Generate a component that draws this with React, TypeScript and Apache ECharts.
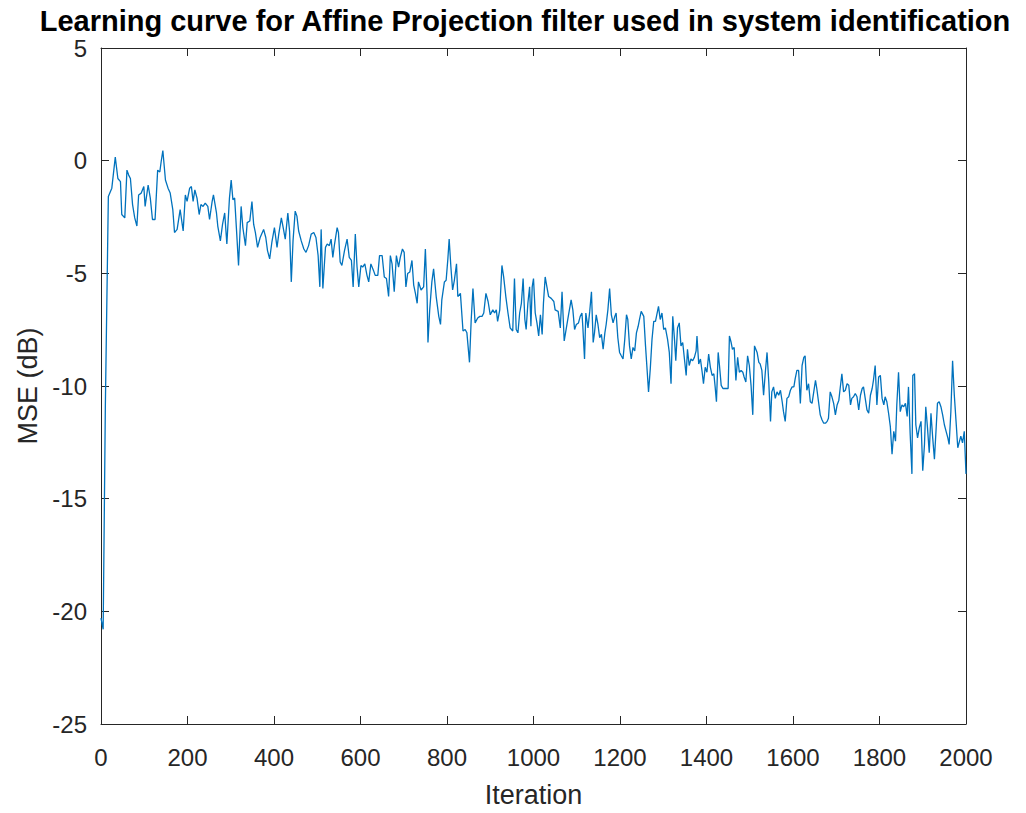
import React, { useEffect, useRef } from "react";
import * as echarts from "echarts";

const titleText = "Learning curve for Affine Projection filter used in system identification";
const xLabel = "Iteration";
const yLabel = "MSE (dB)";

const iterations: number[] = [
  0, 5, 10, 17, 25, 33, 39, 45, 48, 55, 60, 64, 68, 73, 78, 83, 87, 93, 99, 102,
  109, 114, 119, 125, 131, 136, 139, 143, 149, 155, 160, 166, 170, 176,
  183, 190, 195, 199, 205, 209, 213, 217, 222, 227, 231, 236, 241, 247, 251, 257,
  260, 267, 270, 276, 281, 286, 291, 297, 301, 305, 309, 313, 318, 324, 328, 334,
  338, 344, 349, 353, 357, 362, 368, 376, 381, 385, 390, 395, 401, 407, 411,
  417, 422, 426, 432, 436, 440, 444, 449, 453, 457, 463, 469, 474, 480, 486, 492,
  497, 502, 506, 509, 513, 519, 523, 528, 532, 536, 540, 546, 549, 553, 557, 563,
  569, 574, 579, 583, 588, 592, 596, 601, 605, 610, 615, 619, 624, 630,
  634, 640, 644, 650, 655, 660, 665, 669, 673, 678, 683, 688, 692, 697, 701, 705,
  709, 714, 719, 723, 727, 731, 734, 740, 746, 750, 754, 756, 760, 765, 769, 775,
  781, 785, 788, 794, 798, 802, 805, 809, 813, 817, 822, 825, 831, 837, 842, 846, 850,
  852, 856, 860, 865, 871, 876, 881, 885, 890, 895, 900, 906, 910, 914, 917, 922,
  927, 931, 936, 941, 946, 952, 956, 960, 964, 968, 972, 976, 980, 983, 987, 991,
  994, 997, 1000, 1004, 1008, 1012, 1016, 1020, 1023, 1027, 1031, 1035, 1041, 1047,
  1050, 1057, 1062, 1066, 1071,
  1081, 1087, 1091, 1095, 1099, 1104, 1108, 1112, 1114, 1118, 1121, 1126, 1130, 1134,
  1138, 1141, 1145, 1149, 1153, 1157, 1161, 1165, 1168, 1172, 1176, 1180, 1184, 1188,
  1191, 1195, 1199, 1203, 1207, 1211, 1215, 1218, 1222, 1226, 1230, 1234, 1238, 1242,
  1245, 1249, 1255, 1259, 1262, 1266, 1270, 1274, 1278, 1282,
  1289, 1293, 1297, 1301, 1305, 1310, 1314, 1318, 1322, 1326, 1329, 1333, 1337, 1341,
  1345, 1349, 1353, 1356, 1360, 1364, 1368, 1372, 1376, 1378, 1382, 1386, 1390, 1393,
  1397, 1401, 1405, 1409, 1413, 1417, 1420, 1423, 1427, 1430, 1434, 1438, 1442, 1446,
  1450, 1453, 1457, 1460, 1464, 1468, 1472, 1476, 1480, 1484, 1487, 1491, 1495, 1499,
  1503, 1507, 1511,
  1517, 1521, 1524, 1528, 1532, 1536, 1540, 1544, 1548, 1551, 1555, 1559, 1563, 1567,
  1571, 1575, 1578, 1582, 1586, 1590, 1594, 1598, 1602, 1605, 1609, 1613, 1617, 1621,
  1625, 1628, 1632, 1636, 1640, 1644, 1648, 1652, 1655, 1659, 1663, 1667, 1671, 1675,
  1679, 1682, 1686, 1690, 1694, 1698, 1702, 1706, 1709, 1713, 1717, 1721, 1725, 1729,
  1733, 1736, 1740, 1744, 1748, 1752, 1756, 1760, 1763, 1767, 1771, 1775, 1779, 1783,
  1786, 1790, 1794, 1798, 1802, 1806, 1810, 1813, 1817, 1821, 1825, 1829, 1833, 1837,
  1840, 1844, 1848, 1852, 1856, 1860, 1864, 1867, 1871, 1875, 1877, 1881, 1884, 1888,
  1892, 1896, 1900, 1904, 1907, 1911, 1915, 1919, 1923, 1927, 1931, 1934, 1938, 1942,
  1946, 1950, 1954, 1958, 1961, 1965, 1969, 1973, 1977, 1981, 1985, 1988, 1992, 1996, 2000,
];

const mseDb: number[] = [
  -20.3, -20.8, -11.0, -1.59, -1.22, 0.16, -0.79, -0.93, -2.39, -2.54, -0.42, -0.64, -0.79, -1.95, -2.54, -2.9, -1.52, -1.44, -1.15, -2.03,
  -1.08, -1.66, -2.61, -2.61, -0.42, -0.5, -0.06, 0.45, -0.86, -1.22, -1.44, -2.17, -3.19, -3.05,
  -2.17, -3.12, -1.52, -1.81, -1.22, -1.15, -1.81, -1.3, -1.66, -2.39, -1.95, -2.03, -1.88, -2.03, -2.61, -1.81,
  -1.52, -2.32, -2.9, -3.56, -2.83, -2.32, -3.7, -1.66, -0.86, -1.73, -1.66, -2.97, -4.65, -2.03, -2.97, -3.77,
  -2.75, -2.68, -1.81, -2.83, -3.19, -3.85, -3.41, -3.05, -3.41, -3.99, -4.36, -3.63, -2.97, -3.85, -3.26,
  -2.54, -3.05, -3.48, -2.32, -3.12, -5.38, -3.56, -2.24, -2.46, -3.12, -3.56, -3.92, -4.07, -3.77, -3.26, -3.19,
  -3.41, -4.21, -5.6, -3.05, -5.67, -3.85, -3.7, -3.77, -3.48, -4.29, -3.7, -2.97, -3.19, -4.5, -4.65, -3.99,
  -3.48, -4.29, -4.43, -5.6, -3.26, -4.72, -5.6, -4.65, -4.72, -4.58, -5.09, -5.38, -4.58, -4.87,
  -5.09, -5.09, -4.21, -4.21, -5.16, -5.23, -6.03, -4.21, -4.58, -5.82, -4.21, -4.72, -4.29, -3.92, -4.07, -5.6,
  -5.01, -4.94, -4.43, -5.52, -5.89, -6.33, -5.38, -5.74, -5.6, -3.92, -6.03, -8.07, -6.62, -5.38, -4.8, -6.03,
  -6.91, -7.27, -6.18, -5.38, -5.31, -4.36, -3.48, -4.72, -5.74, -5.31, -4.58, -6.03, -5.89, -7.56, -7.49, -7.64, -8.51,
  -8.95, -7.05, -5.67, -7.2, -6.98, -6.91, -6.91, -6.76, -5.89, -6.25, -6.84, -6.62, -6.76, -6.62, -7.13, -6.62,
  -4.65, -5.16, -6.03, -6.76, -7.42, -7.56, -5.23, -7.49, -7.64, -6.76, -6.33, -5.23, -7.05, -7.49, -6.33, -5.6,
  -7.35, -5.6, -5.23, -6.76, -7.2, -7.78, -6.84, -7.71, -6.33, -5.16, -5.6, -6.03, -6.11, -6.25,
  -6.62, -6.69, -7.42, -5.82, -8.0,
  -6.84, -6.18, -6.62, -7.49, -7.27, -7.2, -6.91, -6.76, -7.35, -8.8, -6.76, -7.42, -6.69, -5.82,
  -8.07, -7.64, -6.84, -7.27, -7.86, -7.71, -8.37, -7.64, -7.27, -6.62, -5.67, -6.84, -7.2, -6.91,
  -6.76, -7.86, -8.51, -8.66, -8.8, -7.93, -6.84, -7.05, -8.22, -8.8, -8.29, -8.44, -7.64, -7.35,
  -7.05, -6.69, -6.91, -8.22, -9.09, -10.26, -9.24, -7.93, -7.13, -7.13,
  -6.47, -7.05, -6.76, -7.49, -7.42, -7.93, -8.51, -9.9, -6.91, -7.93, -8.88, -7.42, -7.2, -8.22,
  -8.07, -8.8, -9.53, -8.37, -9.09, -8.8, -8.88, -8.73, -8.44, -7.78, -9.02, -8.8, -9.39, -9.9,
  -9.17, -9.39, -8.58, -9.17, -9.53, -9.46, -10.04, -10.7, -8.51, -9.09, -9.97, -10.11, -10.11, -10.11,
  -10.11, -7.78, -8.07, -8.37, -8.29, -9.75, -8.73, -9.39, -9.31, -9.39, -9.6, -9.82, -8.66, -9.09,
  -9.97, -11.28, -8.22,
  -8.51, -8.95, -9.02, -9.31, -10.41, -9.39, -8.51, -9.82, -11.57, -10.26, -10.04, -10.55, -10.26, -10.41,
  -10.19, -10.7, -11.14, -11.57, -10.55, -10.48, -10.19, -10.04, -10.04, -9.68, -9.31, -9.31, -10.77, -9.09,
  -8.73, -8.66, -10.19, -9.9, -10.7, -10.77, -10.26, -9.75, -10.11, -10.7, -11.28, -11.5, -11.65, -11.65,
  -11.57, -11.43, -10.26, -10.48, -10.77, -11.28, -10.84, -10.63, -10.11, -9.46, -10.26, -10.19, -9.9, -9.97,
  -10.84, -10.55, -10.48, -10.33, -10.48, -11.06, -10.41, -10.11, -10.04, -10.55, -11.06, -11.21, -10.41, -10.11,
  -9.75, -9.09, -10.84, -9.6, -9.53, -10.55, -10.84, -10.48, -10.7, -11.21, -11.79, -13.03, -12.01, -12.45,
  -10.84, -9.39, -11.14, -10.84, -10.92, -10.77, -11.35, -10.04, -12.16, -13.9, -9.53, -9.46, -11.72, -12.3,
  -11.86, -11.57, -13.76, -12.59, -10.92, -11.86, -12.96, -11.21, -12.3, -13.25, -11.86, -10.77, -10.7, -10.92,
  -11.28, -11.72, -12.01, -12.3, -12.59, -11.14, -8.88, -10.41, -11.57, -12.74, -12.45, -12.23, -12.52, -12.01, -13.9,
];

const FONT = "'Liberation Sans', Arial, Helvetica, sans-serif";
const AXIS_COLOR = "#262626";
const LINE_COLOR = "#0072BD";

export default function App() {
  const ref = useRef<HTMLDivElement>(null);

  useEffect(() => {
    if (!ref.current) return;
    const chart = echarts.init(ref.current, undefined, { renderer: "svg" });
    const points = iterations.map((it, i) => [it, mseDb[i]]);

    const tickCommon = {
      inside: true,
      length: 8,
      lineStyle: { color: AXIS_COLOR, width: 1 },
    };
    const lineCommon = { onZero: false, lineStyle: { color: AXIS_COLOR, width: 1 } };
    const labelCommon = {
      color: AXIS_COLOR,
      fontSize: 24,
      fontFamily: FONT,
      formatter: (v: number) => String(v),
    };

    chart.setOption({
      animation: false,
      backgroundColor: "#ffffff",
      textStyle: { fontFamily: FONT },
      grid: { left: 101, right: 60, top: 48, bottom: 77, containLabel: false },
      graphic: [
        {
          type: "text",
          x: 525,
          y: 21,
          style: {
            text: titleText,
            fill: "#000000",
            font: `bold 29px ${FONT}`,
            textAlign: "center",
            textVerticalAlign: "middle",
          },
        },
      ],
      xAxis: [
        {
          type: "value",
          position: "bottom",
          min: 0,
          max: 2000,
          interval: 200,
          axisLine: lineCommon,
          axisTick: tickCommon,
          axisLabel: { ...labelCommon, margin: 21 },
          splitLine: { show: false },
          name: xLabel,
          nameLocation: "middle",
          nameGap: 57,
          nameTextStyle: { color: AXIS_COLOR, fontSize: 27, fontFamily: FONT },
        },
        {
          type: "value",
          position: "top",
          min: 0,
          max: 2000,
          interval: 200,
          axisLine: lineCommon,
          axisTick: tickCommon,
          axisLabel: { show: false },
          splitLine: { show: false },
        },
      ],
      yAxis: [
        {
          type: "value",
          position: "left",
          min: -25,
          max: 5,
          interval: 5,
          axisLine: lineCommon,
          axisTick: tickCommon,
          axisLabel: { ...labelCommon, margin: 14 },
          splitLine: { show: false },
          name: yLabel,
          nameLocation: "middle",
          nameGap: 60,
          nameRotate: 90,
          nameTextStyle: { color: AXIS_COLOR, fontSize: 27, fontFamily: FONT },
        },
        {
          type: "value",
          position: "right",
          min: -25,
          max: 5,
          interval: 5,
          axisLine: lineCommon,
          axisTick: tickCommon,
          axisLabel: { show: false },
          splitLine: { show: false },
        },
      ],
      series: [
        {
          type: "line",
          xAxisIndex: 0,
          yAxisIndex: 0,
          data: points,
          showSymbol: false,
          symbol: "none",
          lineStyle: { color: LINE_COLOR, width: 1.3 },
          z: 3,
        },
      ],
    });

    return () => {
      chart.dispose();
    };
  }, []);

  return (
    <div
      ref={ref}
      style={{ position: "fixed", left: 0, top: 0, width: 1026, height: 813, background: "#fff" }}
    />
  );
}
